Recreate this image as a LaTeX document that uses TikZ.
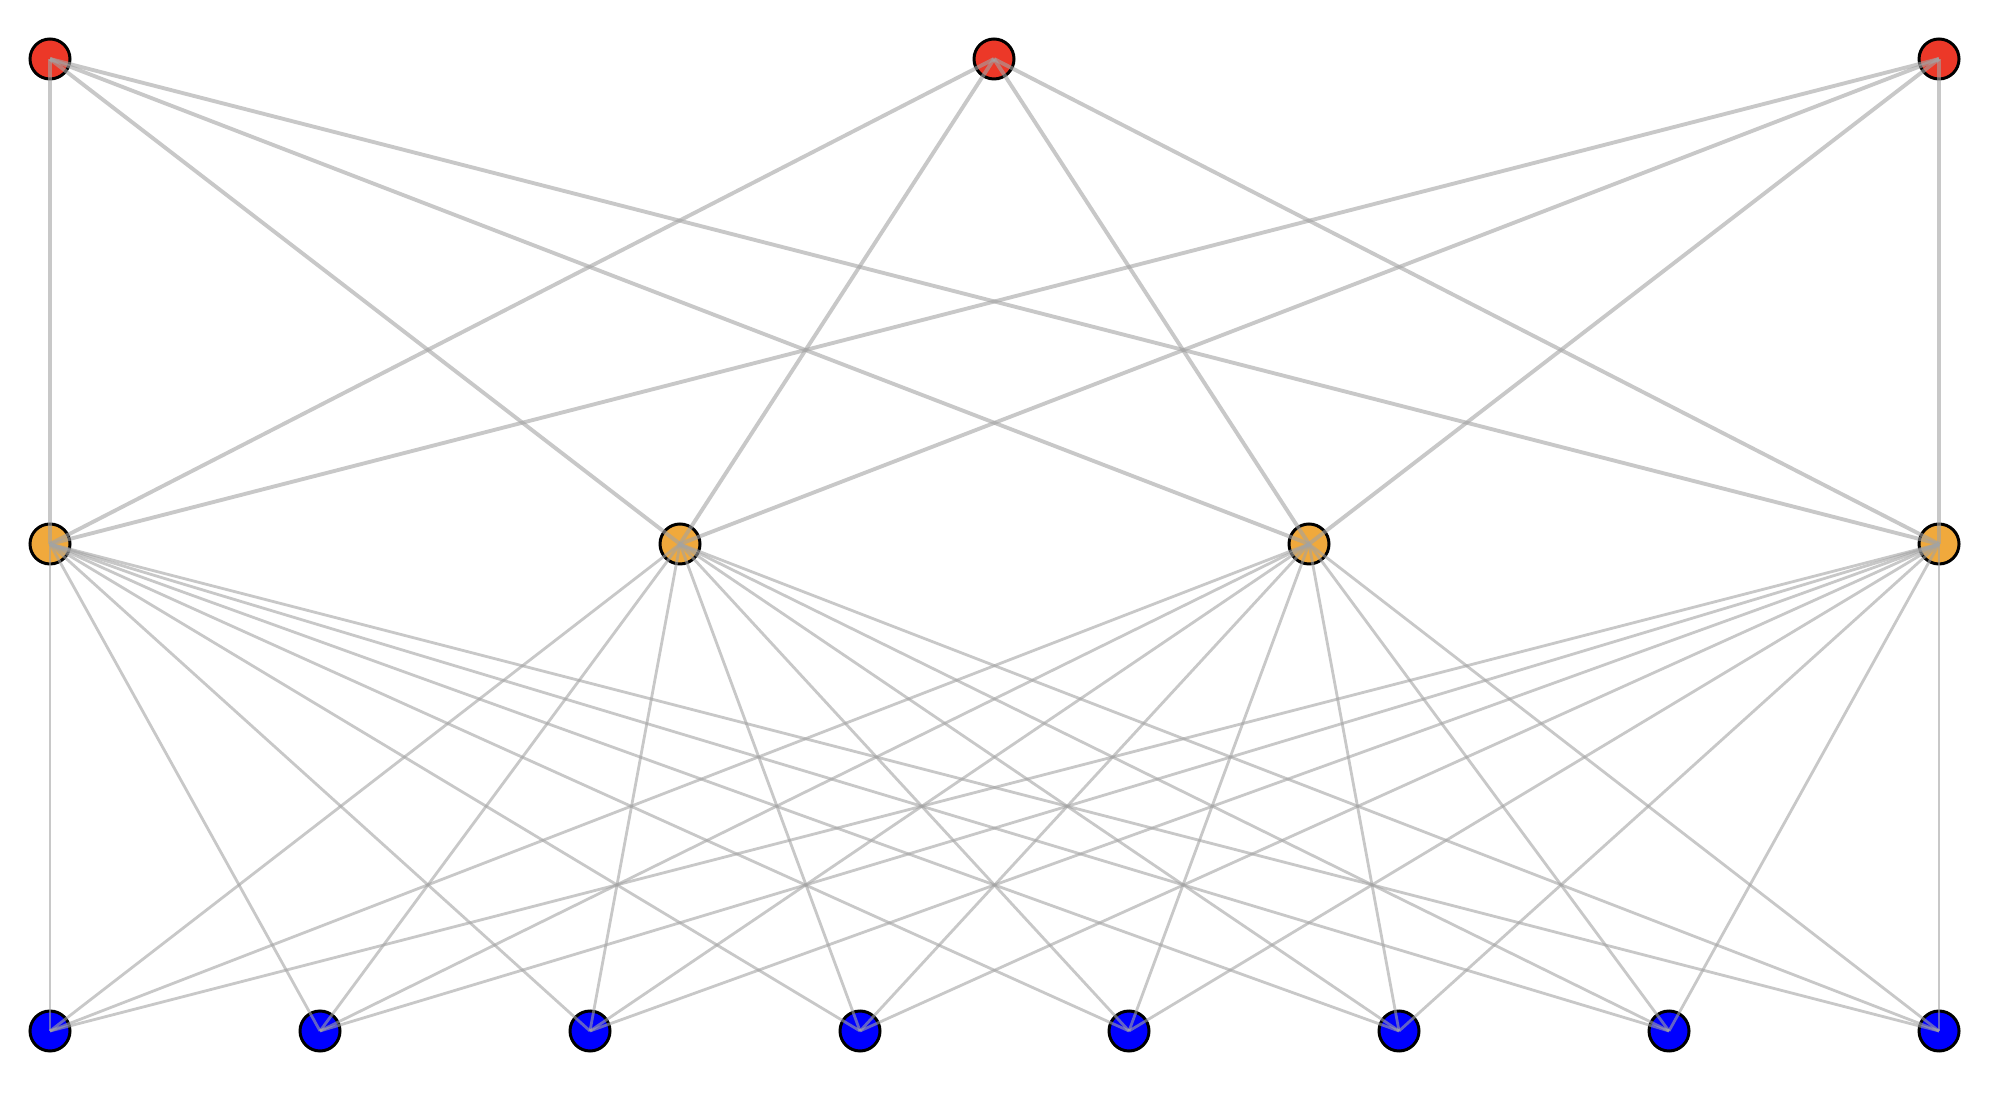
\documentclass[tikz,border=0pt]{standalone}
\usetikzlibrary{calc}
\definecolor{topcolor}{HTML}{EC3828}
\definecolor{midcolor}{HTML}{F0A93C}
\definecolor{botcolor}{HTML}{0000FF}
\definecolor{edgecolor}{HTML}{A3A3A3}

\begin{document}
\begin{tikzpicture}[
    vertex/.style={circle, draw=black, fill=#1, line width=0.85pt, minimum size=0.40cm, inner sep=0pt},
    upperedge/.style={draw=edgecolor, draw opacity=0.6, line width=1.1pt},
    loweredge/.style={draw=edgecolor, draw opacity=0.6, line width=0.8pt}
]
    \useasboundingbox (0, 0) rectangle (19.92, 10.94);

    % Top layer
    \node[vertex=topcolor] (top1) at (0.50, 10.35) {};
    \node[vertex=topcolor] (top2) at (9.94, 10.35) {};
    \node[vertex=topcolor] (top3) at (19.39, 10.35) {};

    % Middle layer
    \node[vertex=midcolor] (mid1) at (0.50, 5.50) {};
    \node[vertex=midcolor] (mid2) at (6.80, 5.50) {};
    \node[vertex=midcolor] (mid3) at (13.09, 5.50) {};
    \node[vertex=midcolor] (mid4) at (19.39, 5.50) {};

    % Bottom layer
    \foreach \i/\x in {1/0.50, 2/3.20, 3/5.90, 4/8.60, 5/11.29, 6/13.99, 7/16.69, 8/19.39}
        \node[vertex=botcolor] (bot\i) at (\x, 0.63) {};

    % Edges top -- middle
    \foreach \t in {1,2,3}
        \foreach \m in {1,...,4}
            \draw[upperedge] (top\t.center) -- (mid\m.center);

    % Edges middle -- bottom
    \foreach \m in {1,...,4}
        \foreach \b in {1,...,8}
            \draw[loweredge] (mid\m.center) -- (bot\b.center);

\end{tikzpicture}
\end{document}
